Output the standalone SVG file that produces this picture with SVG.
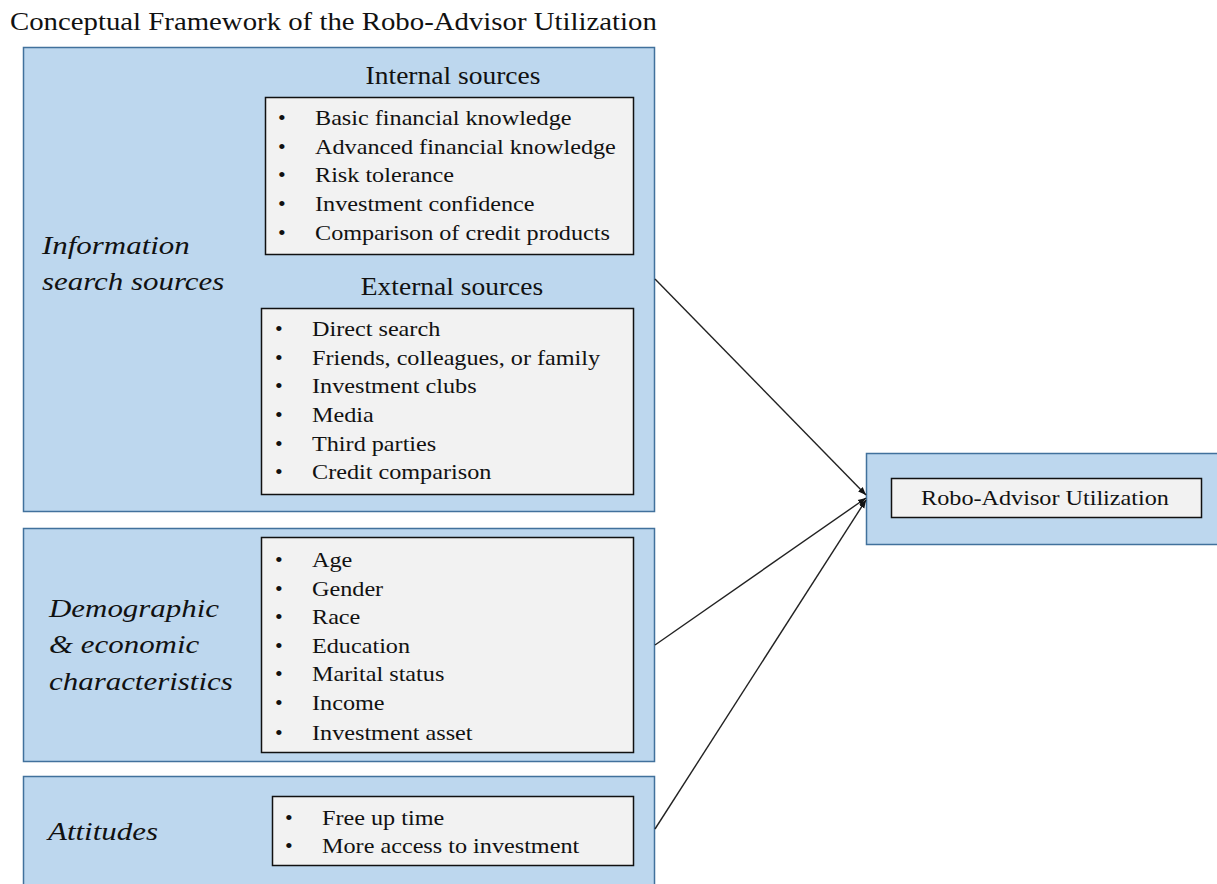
<svg xmlns="http://www.w3.org/2000/svg" width="1217" height="884" viewBox="0 0 1217 884">
<style>
.outer{fill:#BDD7EE;stroke:#41719C;stroke-width:1.5}
.inner{fill:#F2F2F2;stroke:#111;stroke-width:1.5}
.t{font-family:"Liberation Serif","Times New Roman",serif;font-size:22px;fill:#111}
.h{font-family:"Liberation Serif","Times New Roman",serif;font-size:25px;fill:#111}
.lab{font-family:"Liberation Serif","Times New Roman",serif;font-size:26px;font-style:italic;fill:#111}
.title{font-family:"Liberation Serif","Times New Roman",serif;font-size:26px;fill:#111}
.conn{stroke:#222;stroke-width:1.4;fill:none;marker-end:url(#ah)}
</style>
<defs>
<marker id="ah" viewBox="0 0 10 10" refX="10" refY="5" markerWidth="8" markerHeight="8" orient="auto" markerUnits="userSpaceOnUse">
<path d="M0,1 L10,5 L0,9 z" fill="#111"/>
</marker>
</defs>
<rect width="1217" height="884" fill="#fff"/>
<text class="title" transform="translate(10,30) scale(1.108,1)">Conceptual Framework of the Robo-Advisor Utilization</text>

<g id="info">
<rect class="outer" x="23.5" y="47.5" width="631" height="464"/>
<g class="lab" transform="translate(42,0) scale(1.19,1)">
<text x="0" y="254">Information</text>
<text x="0" y="290">search sources</text>
</g>
<text class="h" transform="translate(453,84) scale(1.1,1)" text-anchor="middle">Internal sources</text>
<rect class="inner" x="265.5" y="97.5" width="368" height="157"/>
<g class="t">
<text x="278" y="125">•</text>
<text x="278" y="154">•</text>
<text x="278" y="182">•</text>
<text x="278" y="211">•</text>
<text x="278" y="240">•</text>
</g>
<g class="t" transform="translate(315,0) scale(1.1,1)">
<text x="0" y="125">Basic financial knowledge</text>
<text x="0" y="154">Advanced financial knowledge</text>
<text x="0" y="182">Risk tolerance</text>
<text x="0" y="211">Investment confidence</text>
<text x="0" y="240">Comparison of credit products</text>
</g>
<text class="h" transform="translate(452,295) scale(1.1,1)" text-anchor="middle">External sources</text>
<rect class="inner" x="261.5" y="308.5" width="372" height="186"/>
<g class="t">
<text x="275" y="336">•</text>
<text x="275" y="365">•</text>
<text x="275" y="393">•</text>
<text x="275" y="422">•</text>
<text x="275" y="451">•</text>
<text x="275" y="479">•</text>
</g>
<g class="t" transform="translate(312,0) scale(1.1,1)">
<text x="0" y="336">Direct search</text>
<text x="0" y="365">Friends, colleagues, or family</text>
<text x="0" y="393">Investment clubs</text>
<text x="0" y="422">Media</text>
<text x="0" y="451">Third parties</text>
<text x="0" y="479">Credit comparison</text>
</g>
</g>

<g id="demographic">
<rect class="outer" x="23.5" y="528.5" width="631" height="233"/>
<g class="lab" transform="translate(49,0) scale(1.19,1)">
<text x="0" y="617">Demographic</text>
<text x="0" y="653">&amp; economic</text>
<text x="0" y="690">characteristics</text>
</g>
<rect class="inner" x="261.5" y="537.5" width="372" height="215"/>
<g class="t">
<text x="275" y="567">•</text>
<text x="275" y="596">•</text>
<text x="275" y="624">•</text>
<text x="275" y="653">•</text>
<text x="275" y="681">•</text>
<text x="275" y="710">•</text>
<text x="275" y="740">•</text>
</g>
<g class="t" transform="translate(312,0) scale(1.1,1)">
<text x="0" y="567">Age</text>
<text x="0" y="596">Gender</text>
<text x="0" y="624">Race</text>
<text x="0" y="653">Education</text>
<text x="0" y="681">Marital status</text>
<text x="0" y="710">Income</text>
<text x="0" y="740">Investment asset</text>
</g>
</g>

<g id="attitudes">
<rect class="outer" x="23.5" y="776.5" width="631" height="120"/>
<text class="lab" transform="translate(48,840) scale(1.19,1)">Attitudes</text>
<rect class="inner" x="272.5" y="796.5" width="361" height="69"/>
<g class="t">
<text x="285" y="825">•</text>
<text x="285" y="853">•</text>
</g>
<g class="t" transform="translate(322,0) scale(1.1,1)">
<text x="0" y="825">Free up time</text>
<text x="0" y="853">More access to investment</text>
</g>
</g>

<g id="robo">
<rect class="outer" x="866.5" y="453.5" width="352" height="91"/>
<rect class="inner" x="891.5" y="478.5" width="310" height="39"/>
<text class="t" transform="translate(1045,505) scale(1.1,1)" text-anchor="middle">Robo-Advisor Utilization</text>
</g>

<g id="connectors">
<line class="conn" x1="655" y1="279" x2="866" y2="495"/>
<line class="conn" x1="655" y1="645" x2="866" y2="498"/>
<line class="conn" x1="655" y1="829" x2="866" y2="500"/>
</g>
</svg>
